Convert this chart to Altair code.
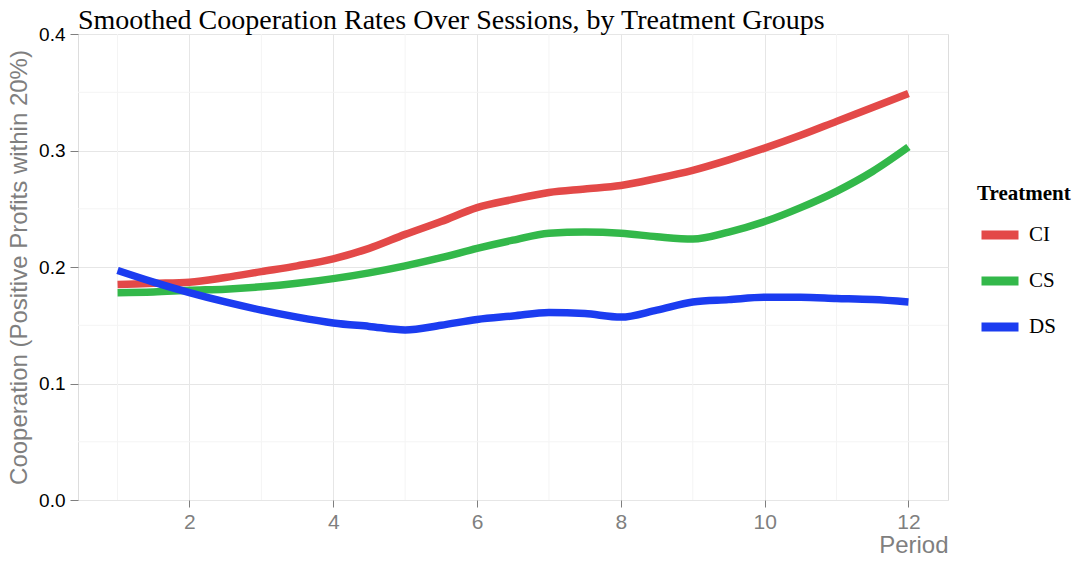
import altair as alt
import pandas as pd

periods = [1, 1.5, 2, 2.5, 3, 3.5, 4, 4.5, 5, 5.5, 6, 6.5, 7, 7.5, 8, 8.5, 9, 9.5, 10, 10.5, 11, 11.5, 12]
ci = [0.185, 0.186, 0.187, 0.191, 0.196, 0.201, 0.207, 0.216, 0.228, 0.239, 0.251, 0.258, 0.264, 0.267, 0.270, 0.276, 0.283, 0.292, 0.302, 0.313, 0.325, 0.337, 0.349]
cs = [0.178, 0.1785, 0.180, 0.181, 0.183, 0.186, 0.190, 0.195, 0.201, 0.208, 0.216, 0.223, 0.229, 0.230, 0.229, 0.226, 0.224, 0.230, 0.239, 0.251, 0.265, 0.282, 0.303]
ds = [0.197, 0.187, 0.178, 0.170, 0.163, 0.157, 0.152, 0.149, 0.146, 0.150, 0.155, 0.158, 0.161, 0.160, 0.157, 0.163, 0.170, 0.172, 0.174, 0.174, 0.173, 0.172, 0.170]
groups = ["CI", "CS", "DS"]
colors = ["#E34948", "#33B84A", "#1B3CF0"]
x_ticks = [2, 4, 6, 8, 10, 12]
y_ticks = [0, 0.1, 0.2, 0.3, 0.4]
minor_x = [1, 3, 5, 7, 9, 11]
minor_y = [0.05, 0.15, 0.25, 0.35]

rows = []
for g, vals in zip(groups, [ci, cs, ds]):
    for p, v in zip(periods, vals):
        rows.append({"Period": p, "Cooperation": v, "Treatment": g})
df = pd.DataFrame(rows)

xscale = alt.Scale(domain=[0.45, 12.55], nice=False, zero=False)
yscale = alt.Scale(domain=[0, 0.4], nice=False)

xaxis = alt.Axis(values=x_ticks, title="Period", grid=True,
                 gridColor="#E6E6E6", domain=False, tickColor="#7F7F7F",
                 tickSize=7, labelColor="#7F7F7F", labelFontSize=21,
                 labelFont="Liberation Sans", labelPadding=4,
                 titleFont="Liberation Sans", titleFontSize=24,
                 titleFontWeight="normal", titleColor="#7F7F7F",
                 titleAnchor="end", titlePadding=1)
yaxis = alt.Axis(values=y_ticks, format=".1f",
                 title="Cooperation (Positive Profits within 20%)",
                 grid=True, gridColor="#E6E6E6", domain=False,
                 tickColor="#7F7F7F", tickSize=8, labelColor="#000000",
                 labelFontSize=19, labelFont="Liberation Sans", labelPadding=5,
                 titleFont="Liberation Sans", titleFontSize=24,
                 titleFontWeight="normal", titleColor="#7F7F7F",
                 titlePadding=7)

minor_x_rules = alt.Chart(pd.DataFrame({"Period": minor_x})).mark_rule(
    color="#F4F4F4", strokeWidth=1
).encode(x=alt.X("Period:Q", scale=xscale, axis=xaxis))

minor_y_rules = alt.Chart(pd.DataFrame({"Cooperation": minor_y})).mark_rule(
    color="#F4F4F4", strokeWidth=1
).encode(y=alt.Y("Cooperation:Q", scale=yscale, axis=yaxis))

lines = alt.Chart(df).mark_line(strokeWidth=7.5, interpolate="monotone", strokeCap="butt").encode(
    x=alt.X("Period:Q", scale=xscale, axis=xaxis),
    y=alt.Y("Cooperation:Q", scale=yscale, axis=yaxis),
    color=alt.Color("Treatment:N", scale=alt.Scale(domain=groups, range=colors),
                    legend=alt.Legend(title="Treatment", orient="none", legendX=899, legendY=149,
                                      symbolType="stroke", symbolSize=1369, symbolStrokeWidth=9,
                                      rowPadding=5, labelOffset=6,
                                      titleFont="Liberation Serif", titleFontSize=21,
                                      titleFontWeight="bold", titleColor="#000000",
                                      titlePadding=8, labelFont="Liberation Serif",
                                      labelFontSize=21, labelColor="#000000")),
)

chart = alt.layer(minor_x_rules, minor_y_rules, lines).properties(
    width=870, height=466,
    autosize=alt.AutoSizeParams(type="none"),
    padding={"left": 70, "top": 26, "right": 127, "bottom": 53},
    title=alt.TitleParams("Smoothed Cooperation Rates Over Sessions, by Treatment Groups",
                          anchor="start", font="Liberation Serif", fontSize=28,
                          fontWeight="normal", color="#000000", offset=4, dy=14, frame="group"),
).configure_view(stroke="#D9D9D9", strokeWidth=1).configure(background="white")

chart.save("out.html", embed_options={"renderer": "svg", "actions": False})
